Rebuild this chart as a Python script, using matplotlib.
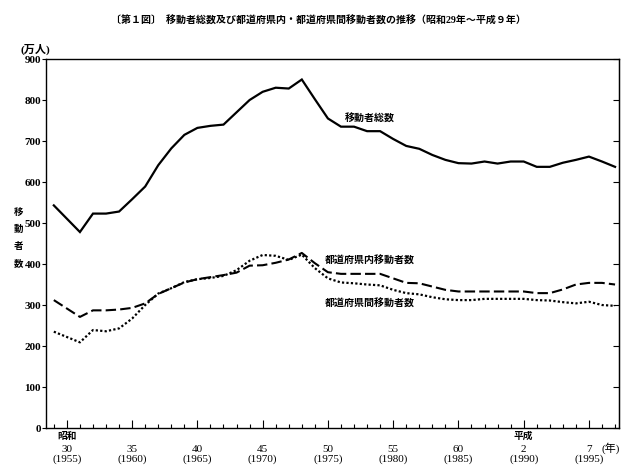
import matplotlib
matplotlib.use('Agg')
import matplotlib.pyplot as plt

plt.rcParams['font.family'] = ['Liberation Serif', 'Noto Sans CJK JP', 'DejaVu Sans']

# years (昭和29 = 1954 ... 平成9 = 1997); no point drawn for 1955
years = [1954] + list(range(1956, 1998))

total = [543, 478, 523, 523, 528, 558, 589, 641, 682, 715, 732, 737, 740, 770, 800,
         820, 830, 828, 850, 802, 755, 735, 735, 724, 724, 705, 688, 681, 666, 654,
         646, 645, 650, 645, 650, 650, 637, 637, 647, 654, 662, 650, 637]

intra = [312, 271, 287, 287, 289, 293, 304, 327, 341, 355, 363, 368, 373, 379, 396,
         397, 403, 411, 427, 402, 380, 376, 376, 376, 376, 365, 354, 353, 345, 337,
         333, 333, 333, 333, 333, 333, 329, 329, 338, 350, 354, 354, 350]

inter = [235, 209, 239, 236, 243, 267, 300, 328, 341, 356, 363, 366, 371, 385, 408,
         422, 420, 410, 423, 390, 365, 355, 353, 350, 348, 337, 329, 326, 319, 314,
         312, 312, 315, 315, 315, 315, 312, 311, 307, 304, 308, 300, 298]

tick_years = [1955, 1960, 1965, 1970, 1975, 1980, 1985, 1990, 1995]
tick_labels = ['30\n(1955)', '35\n(1960)', '40\n(1965)', '45\n(1970)', '50\n(1975)',
               '55\n(1980)', '60\n(1985)', '2\n(1990)', '7\n(1995)']

fig = plt.figure(figsize=(6.37, 4.74), dpi=100)
ax = fig.add_axes([0.0722, 0.097, 0.8995, 0.7785])

ax.plot(years, total, color='black', lw=1.6, solid_joinstyle='miter')
ax.plot(years, intra, color='black', lw=1.5, dashes=(5, 2))
ax.plot(years, inter, color='black', lw=1.6, dashes=(1.0, 1.0))

ax.set_xlim(1953.4, 1997.3)
ax.set_ylim(0, 900)
ax.set_yticks(range(0, 901, 100))
ax.tick_params(axis='y', direction='out', length=3, width=0.8, labelsize=8, pad=0.5)
for lab in ax.get_yticklabels():
    lab.set_fontweight('bold')

ax.set_xticks(tick_years)
ax.set_xticklabels(tick_labels, fontsize=8, linespacing=1.05)
ax.set_xticks(range(1954, 1998), minor=True)
ax.tick_params(axis='x', which='major', direction='in', length=6, width=0.8, pad=12)
ax.tick_params(axis='x', which='minor', direction='in', length=3, width=0.8)

sec = ax.secondary_yaxis('right')
sec.set_yticks(range(0, 901, 100))
sec.tick_params(direction='in', length=4, width=0.8, labelright=False)

for sp in ax.spines.values():
    sp.set_linewidth(1.0)

# era labels on the x axis
ax.text(1955, -20, '昭和', ha='center', va='center', fontsize=7, fontweight='bold')
ax.text(1990, -20, '平成', ha='center', va='center', fontsize=7, fontweight='bold')
ax.text(1996.7, -49, '(年)', ha='center', va='center', fontsize=8)

# series labels
ax.text(1976.3, 755, '移動者総数', fontsize=7.2, fontweight='bold', va='center')
ax.text(1974.8, 408, '都道府県内移動者数', fontsize=7.2, fontweight='bold', va='center')
ax.text(1974.8, 303, '都道府県間移動者数', fontsize=7.2, fontweight='bold', va='center')

fig.text(0.056, 0.895, '(万人)', fontsize=8, fontweight='bold', ha='center', va='center')
fig.text(0.029, 0.498, '移\n動\n者\n数', fontsize=6.8, fontweight='bold',
         ha='center', va='center', linespacing=2.15)

fig.text(0.5, 0.956, '〔第１図〕  移動者総数及び都道府県内・都道府県間移動者数の推移（昭和29年～平成９年）',
         ha='center', va='center', fontsize=7.2, fontweight='bold')

fig.savefig('out.png', dpi=100)
